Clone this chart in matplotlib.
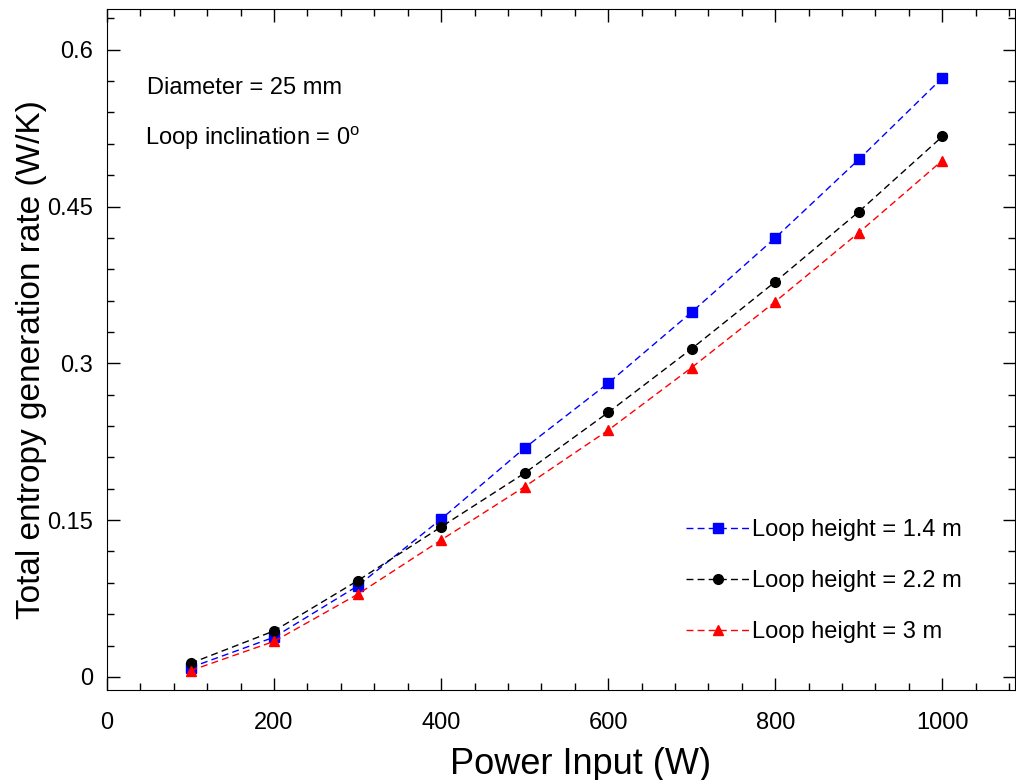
import matplotlib
matplotlib.use("Agg")
import matplotlib.pyplot as plt
from matplotlib.ticker import MultipleLocator

plt.rcParams['font.family'] = ['Liberation Sans', 'DejaVu Sans']

# data
power = [100, 200, 300, 400, 500, 600, 700, 800, 900, 1000]
h14 = [0.009, 0.038, 0.087, 0.151, 0.219, 0.281, 0.349, 0.420, 0.495, 0.573]
h22 = [0.013, 0.044, 0.092, 0.1435, 0.195, 0.253, 0.314, 0.378, 0.445, 0.517]
h30 = [0.006, 0.034, 0.079, 0.131, 0.182, 0.236, 0.296, 0.359, 0.425, 0.494]
labels = ['Loop height = 1.4 m', 'Loop height = 2.2 m', 'Loop height = 3 m']

fig = plt.figure(figsize=(10.16, 7.8), dpi=100)
ax = fig.add_axes([0.1053, 0.1154, 0.8937, 0.8731])

ax.plot(power, h14, 's--', color='#0000ff', lw=1, ms=7, dashes=(5, 3), label=labels[0])
ax.plot(power, h22, 'o--', color='black', lw=1, ms=7, dashes=(5, 3), label=labels[1])
ax.plot(power, h30, '^--', color='#ff0000', lw=1, ms=7, dashes=(5, 3), label=labels[2])

ax.set_xlim(0, 1087)
ax.set_ylim(-0.0125, 0.639)
ax.xaxis.set_major_locator(MultipleLocator(200))
ax.xaxis.set_minor_locator(MultipleLocator(40))
ax.set_yticks([0, 0.15, 0.3, 0.45, 0.6])
ax.set_yticklabels(['0', '0.15', '0.3', '0.45', '0.6'])
ax.yaxis.set_minor_locator(MultipleLocator(0.03))
ax.tick_params(which='both', direction='in', top=True, right=True, labelsize=17)
ax.tick_params(which='major', length=9, width=1)
ax.tick_params(which='minor', length=5, width=1)
ax.tick_params(axis='x', pad=16)
ax.tick_params(axis='y', pad=10)

ax.set_xlabel('Power Input (W)', fontsize=26, labelpad=2)
ax.xaxis.set_label_coords(0.522, -0.083)
ax.set_ylabel('Total entropy generation rate (W/K)', fontsize=24, labelpad=6)
ax.yaxis.set_label_coords(-0.066, 0.485)

ax.text(0.044, 0.875, 'Diameter = 25 mm', transform=ax.transAxes, fontsize=17)
ax.text(0.042, 0.8, r'Loop inclination = 0$^\mathregular{o}$', transform=ax.transAxes, fontsize=17)

ax.legend(loc='lower right', bbox_to_anchor=(0.9645, 0.038), frameon=False, fontsize=17,
          numpoints=1, handlelength=2.7, handletextpad=0.1, labelspacing=1.22)

fig.savefig('out.png', dpi=100)
